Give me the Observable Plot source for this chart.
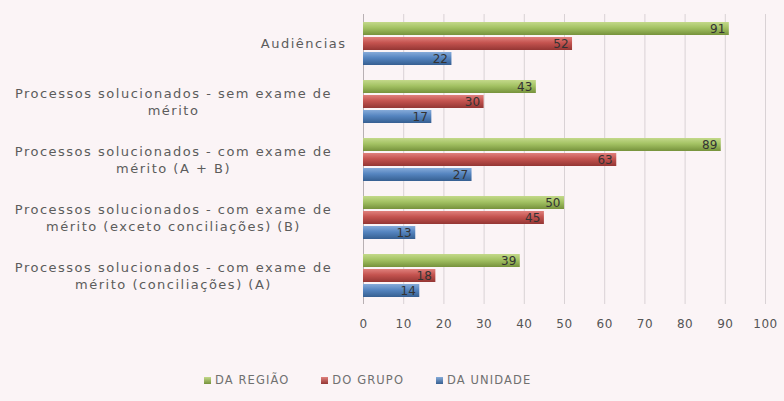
<!DOCTYPE html>
<html>
<head>
<meta charset="utf-8">
<script src="https://cdn.jsdelivr.net/npm/d3@7"></script>
<script src="https://cdn.jsdelivr.net/npm/@observablehq/plot@0.6"></script>
<style>
  html, body { margin: 0; padding: 0; background: #fbf4f6; }
  #wrap { width: 784px; height: 401px; position: relative; font-family: "DejaVu Sans", sans-serif; }
  #legend { position: absolute; top: 373px; left: 0; width: 784px; display: flex; justify-content: flex-start; gap: 32px; font-size: 11.5px; color: #707070; letter-spacing: 1.1px; padding-left: 204px; box-sizing: border-box; }
  #legend span.sw { display: inline-block; width: 7px; height: 7px; margin-right: 4px; vertical-align: 0px; }
</style>
</head>
<body>
<div id="wrap"><div id="chart"></div><div id="legend"></div></div>
<script>
const categories = [
  "Audiências",
  "Processos solucionados - sem exame de mérito",
  "Processos solucionados - com exame de mérito (A + B)",
  "Processos solucionados - com exame de mérito (exceto conciliações) (B)",
  "Processos solucionados - com exame de mérito (conciliações) (A)"
];
const categoryLabels = [
  "Audiências",
  "Processos solucionados - sem exame de\nmérito",
  "Processos solucionados - com exame de\nmérito (A + B)",
  "Processos solucionados - com exame de\nmérito (exceto conciliações) (B)",
  "Processos solucionados - com exame de\nmérito (conciliações) (A)"
];
const series = ["DA REGIÃO", "DO GRUPO", "DA UNIDADE"];
const daRegiao  = [91, 43, 89, 50, 39];
const doGrupo   = [52, 30, 63, 45, 18];
const daUnidade = [22, 17, 27, 13, 14];
const xTicks = [0, 10, 20, 30, 40, 50, 60, 70, 80, 90, 100];

const seriesValues = [daRegiao, doGrupo, daUnidade];
const rows = categories.flatMap((c, i) => series.map((s, j) => ({cat: c, series: s, value: seriesValues[j][i]})));
const labelRows = categories.map((c, i) => ({cat: c, label: categoryLabels[i], multi: categoryLabels[i].includes("\n")}));

const gradIds = ["gGreen", "gRed", "gBlue"];
const gradStops = [
  ["#c3d98a", "#a3c263", "#76923c"],
  ["#e0807c", "#c4534f", "#943634"],
  ["#86abd9", "#5585c0", "#365f91"]
];

const chart = Plot.plot({
  width: 784,
  height: 345,
  marginLeft: 363,
  marginRight: 19,
  marginTop: 13,
  marginBottom: 40,
  style: {background: "transparent", fontFamily: "DejaVu Sans, sans-serif", fontSize: "12px", color: "#555"},
  x: {domain: [0, 100], ticks: xTicks, tickSize: 0, tickPadding: 15, label: null},
  fy: {domain: categories, padding: 0, axis: null},
  y: {domain: series, paddingInner: 0, paddingOuter: 0.33, axis: null},
  color: {domain: series, range: gradIds.map(id => `url(#${id})`)},
  marks: [
    Plot.gridX(xTicks, {stroke: "#d9d2d5", strokeOpacity: 1}),
    Plot.ruleX([0], {stroke: "#b8b0b3"}),
    Plot.barX(rows, {x: "value", y: "series", fy: "cat", fill: "series", insetTop: 1, insetBottom: 1}),
    Plot.text(rows, {x: "value", y: "series", fy: "cat", text: d => String(d.value), textAnchor: "end", dx: -4, fill: "#333", fontSize: 12}),
    Plot.text(labelRows.filter(d => !d.multi), {fy: "cat", text: "label", frameAnchor: "left", dx: -17, textAnchor: "end", fill: "#5c5c5c", fontSize: 13}),
    Plot.text(labelRows.filter(d => d.multi), {fy: "cat", text: "label", frameAnchor: "left", dx: -190, textAnchor: "middle", lineHeight: 1.3, fill: "#5c5c5c", fontSize: 13})
  ]
});

const defs = gradIds.map((id, k) =>
  `<linearGradient id="${id}" x1="0" y1="0" x2="0" y2="1">
     <stop offset="0%" stop-color="${gradStops[k][0]}"/>
     <stop offset="45%" stop-color="${gradStops[k][1]}"/>
     <stop offset="100%" stop-color="${gradStops[k][2]}"/>
   </linearGradient>`).join("");
chart.insertAdjacentHTML("afterbegin", `<defs>${defs}</defs>`);

// widen category-label and tick text to match the stretched look of the original
const textGroups = chart.querySelectorAll('g[aria-label="text"]');
const n = textGroups.length;
textGroups[n - 1].style.letterSpacing = "1.5px";
textGroups[n - 2].style.letterSpacing = "1.5px";
const xAxisG = chart.querySelector('g[aria-label="x-axis tick label"]');
if (xAxisG) xAxisG.style.letterSpacing = "0.5px";

document.getElementById("chart").appendChild(chart);

const legend = document.getElementById("legend");
series.forEach((s, k) => {
  const item = document.createElement("div");
  item.innerHTML = `<span class="sw" style="background: linear-gradient(${gradStops[k][0]}, ${gradStops[k][2]})"></span>${s}`;
  legend.appendChild(item);
});
</script>
</body>
</html>
